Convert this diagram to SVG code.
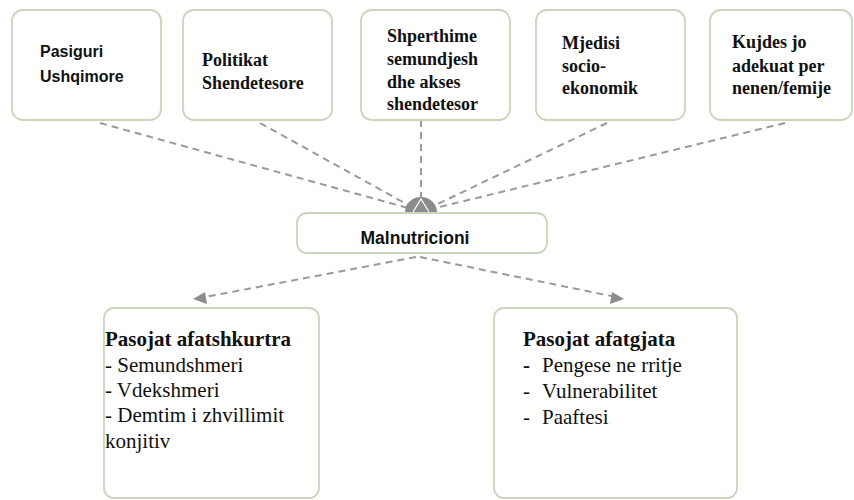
<svg xmlns="http://www.w3.org/2000/svg" width="854" height="500" viewBox="0 0 854 500">
<style>
.box{fill:#ffffff;stroke:#c9d6bc;stroke-width:1.8}
.con{stroke:#9a9a9a;stroke-width:2;stroke-dasharray:7 5;fill:none}
.ah{fill:#8c8c8c}
</style>
<rect width="854" height="500" fill="#ffffff"/>
<g id="connectors">
<line class="con" x1="100" y1="123" x2="419" y2="211"/>
<line class="con" x1="260" y1="123" x2="419" y2="211"/>
<line class="con" x1="421" y1="120" x2="421" y2="211"/>
<line class="con" x1="607" y1="123" x2="423" y2="211"/>
<line class="con" x1="785" y1="123" x2="423" y2="211"/>
<path class="ah" d="M405,212 A16,15 0 0 1 437,212 Z"/>
<path d="M413,212 L421,199 L429,212" fill="none" stroke="#ffffff" stroke-width="1.2"/>
<line class="con" x1="416" y1="257" x2="200" y2="298"/>
<path class="ah" d="M193,299 L205,292 L207,304 Z"/>
<line class="con" x1="420" y1="257" x2="616" y2="297"/>
<path class="ah" d="M624,299 L610,304 L612,292 Z"/>
</g>
<g id="node-pasiguri">
<rect class="box" x="12" y="10" width="149" height="110" rx="11"/>
<text font-family="Liberation Sans, Arial, sans-serif" font-weight="bold" font-size="16" fill="#111"><tspan x="40" y="57">Pasiguri</tspan><tspan x="40" y="82">Ushqimore</tspan></text>
</g>
<g id="node-politikat">
<rect class="box" x="183" y="10" width="149" height="110" rx="11"/>
<text font-family="Liberation Serif, Times New Roman, serif" font-weight="bold" font-size="18" fill="#111"><tspan x="202" y="66">Politikat</tspan><tspan x="202" y="89">Shendetesore</tspan></text>
</g>
<g id="node-shperthime">
<rect class="box" x="361" y="10" width="149" height="110" rx="11"/>
<text font-family="Liberation Serif, Times New Roman, serif" font-weight="bold" font-size="18" fill="#111"><tspan x="387" y="42">Shperthime</tspan><tspan x="387" y="65">semundjesh</tspan><tspan x="387" y="88">dhe akses</tspan><tspan x="387" y="110">shendetesor</tspan></text>
</g>
<g id="node-mjedisi">
<rect class="box" x="536" y="10" width="149" height="110" rx="11"/>
<text font-family="Liberation Serif, Times New Roman, serif" font-weight="bold" font-size="18" fill="#111"><tspan x="562" y="49">Mjedisi</tspan><tspan x="562" y="72">socio-</tspan><tspan x="562" y="94">ekonomik</tspan></text>
</g>
<g id="node-kujdes">
<rect class="box" x="710" y="10" width="142" height="110" rx="11"/>
<text font-family="Liberation Serif, Times New Roman, serif" font-weight="bold" font-size="18" fill="#111"><tspan x="732" y="48">Kujdes jo</tspan><tspan x="732" y="72">adekuat per</tspan><tspan x="732" y="94">nenen/femije</tspan></text>
</g>
<g id="node-malnutricioni">
<rect class="box" x="297" y="213" width="250" height="40" rx="10"/>
<text font-family="Liberation Sans, Arial, sans-serif" font-weight="bold" font-size="17.5" fill="#111" x="415" y="244" text-anchor="middle">Malnutricioni</text>
</g>
<g id="node-afatshkurtra">
<rect class="box" x="104" y="308" width="215" height="190" rx="10"/>
<text font-family="Liberation Serif, Times New Roman, serif" font-size="21" fill="#111"><tspan x="105" y="346" font-weight="bold">Pasojat afatshkurtra</tspan><tspan x="105" y="372">- Semundshmeri</tspan><tspan x="105" y="397">- Vdekshmeri</tspan><tspan x="105" y="422">- Demtim i zhvillimit</tspan><tspan x="105" y="448">konjitiv</tspan></text>
</g>
<g id="node-afatgjata">
<rect class="box" x="494" y="308" width="243" height="190" rx="10"/>
<text font-family="Liberation Serif, Times New Roman, serif" font-size="21" fill="#111"><tspan x="523" y="346" font-weight="bold">Pasojat afatgjata</tspan><tspan x="523" y="372" font-weight="bold">-</tspan><tspan x="542" y="372">Pengese ne rritje</tspan><tspan x="523" y="398">-</tspan><tspan x="542" y="398">Vulnerabilitet</tspan><tspan x="523" y="424">-</tspan><tspan x="542" y="424">Paaftesi</tspan></text>
</g>
</svg>
